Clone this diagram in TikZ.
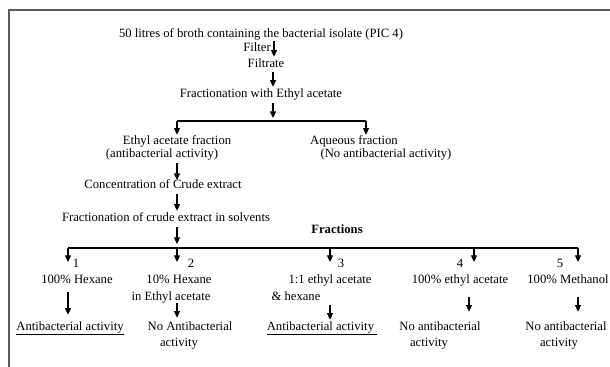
\documentclass[tikz,border=0pt]{standalone}
\usepackage{fontspec}
\setmainfont{Liberation Serif}
\usetikzlibrary{arrows.meta}

\begin{document}
\begin{tikzpicture}[x=0.75pt,y=-0.75pt,
	txt/.style={inner sep=0pt,text height=6.5pt,text depth=2pt,font=\fontsize{9.5}{11}\selectfont},
	arr/.style={-{Triangle[length=5pt,width=4.5pt]},line width=0.8pt},
	ln/.style={line width=0.8pt}]
	\useasboundingbox (0,0) rectangle (610,367);
	\draw[line width=1pt,black!65] (610,10) -- (9,10) -- (9,367);
	
	% upper part
	\node[txt] (broth) at (261,35) {50 litres of broth containing the bacterial isolate (PIC 4)};
	\node[txt,anchor=east] (filter) at (271,49) {Filter};
	\node[txt] (filtrate) at (266,65) {Filtrate};
	\node[txt] (fracEA) at (261,95) {Fractionation with Ethyl acetate};
	\node[txt] (eaf1) at (177,142) {Ethyl acetate fraction};
	\node[txt] (eaf2) at (162,154) {(antibacterial activity)};
	\node[txt] (aq1) at (354,142) {Aqueous fraction};
	\node[txt] (aq2) at (386,154) {(No antibacterial activity)};
	\node[txt] (conc) at (163,186) {Concentration of Crude extract};
	\node[txt] (fcs) at (166,218) {Fractionation of crude extract in solvents};
	\node[txt] (fractions) at (337,230) {\textbf{Fractions}};
	
	\coordinate (c1) at (274,0);
	\coordinate (c2) at (273,0);
	\coordinate (split1) at (273,121);
	\coordinate (bL) at (177,121);
	\coordinate (bR) at (366,121);
	\draw[arr,shorten >=1.7pt] (broth.south -| c1) -- (filtrate.north -| c1);
	\draw[arr,shorten <=1pt,shorten >=1.7pt] (filtrate.south -| c2) -- (fracEA.north -| c2);
	\draw[arr,shorten <=1.7pt,shorten >=2.2pt] (fracEA.south -| c2) -- (split1);
	\draw[ln] (bL) -- (bR);
	\draw[arr,shorten >=1pt] (bL) -- (eaf1.north -| bL);
	\draw[arr,shorten >=1pt] (bR) -- (aq1.north -| bR);
	\draw[arr,shorten <=2.5pt] (eaf2.south -| bL) -- (conc.north -| bL);
	\draw[arr,shorten <=1.7pt,shorten >=1pt] (conc.south -| bL) -- (fcs.north -| bL);
	
	% fractions
	\coordinate (split2) at (177,248);
	\draw[arr,shorten <=2.5pt,shorten >=3pt] (fcs.south -| split2) -- (split2);
	\foreach \x [count=\i] in {68,177,330,474,578}
		\coordinate (br\i) at (\x,248);
	\draw[ln] (br1) -- (br5);
	\foreach \i in {1,...,5}
		\draw[arr] (br\i) -- ++(0,14);
	
	\node[txt] (n1) at (76,264) {1};
	\node[txt] (n2) at (191,264) {2};
	\node[txt] (n3) at (341,264) {3};
	\node[txt] (n4) at (460,264) {4};
	\node[txt] (n5) at (560,264) {5};
	
	\node[txt] (f1) at (77,280) {100\% Hexane};
	\node[txt] (f2a) at (179,280) {10\% Hexane};
	\node[txt] (f2b) at (171,297) {in Ethyl acetate};
	\node[txt] (f3a) at (330,280) {1:1 ethyl acetate};
	\node[txt] (f3b) at (296,297) {\& hexane};
	\node[txt] (f4) at (460,280) {100\% ethyl acetate};
	\node[txt] (f5) at (568,280) {100\% Methanol};
	
	\node[txt] (r1) at (70,327) {\underline{Antibacterial activity}};
	\node[txt] (r2a) at (190,327) {No Antibacterial};
	\node[txt] (r2b) at (179,343) {activity};
	\node[txt] (r3) at (322,327) {\underline{Antibacterial activity~}};
	\node[txt] (r4a) at (440,327) {No antibacterial};
	\node[txt] (r4b) at (429,343) {activity};
	\node[txt] (r5a) at (566,327) {No antibacterial};
	\node[txt] (r5b) at (559,343) {activity};
	
	\coordinate (d1) at (68,0);
	\coordinate (d2) at (177,0);
	\coordinate (d3) at (330,0);
	\coordinate (d4) at (469,0);
	\coordinate (d5) at (578,0);
	\draw[arr,shorten <=4.7pt,shorten >=4.7pt] (f1.south -| d1) -- (r1.north -| d1);
	\draw[arr,shorten >=2.5pt] (f2b.south -| d2) -- (r2a.north -| d2);
	\draw[arr,shorten <=1.7pt,shorten >=1pt] (f3b.south -| d3) -- (r3.north -| d3);
	\draw[arr,shorten <=8.5pt,shorten >=7pt] (f4.south -| d4) -- (r4a.north -| d4);
	\draw[arr,shorten <=8.5pt,shorten >=7pt] (f5.south -| d5) -- (r5a.north -| d5);
\end{tikzpicture}
\end{document}
